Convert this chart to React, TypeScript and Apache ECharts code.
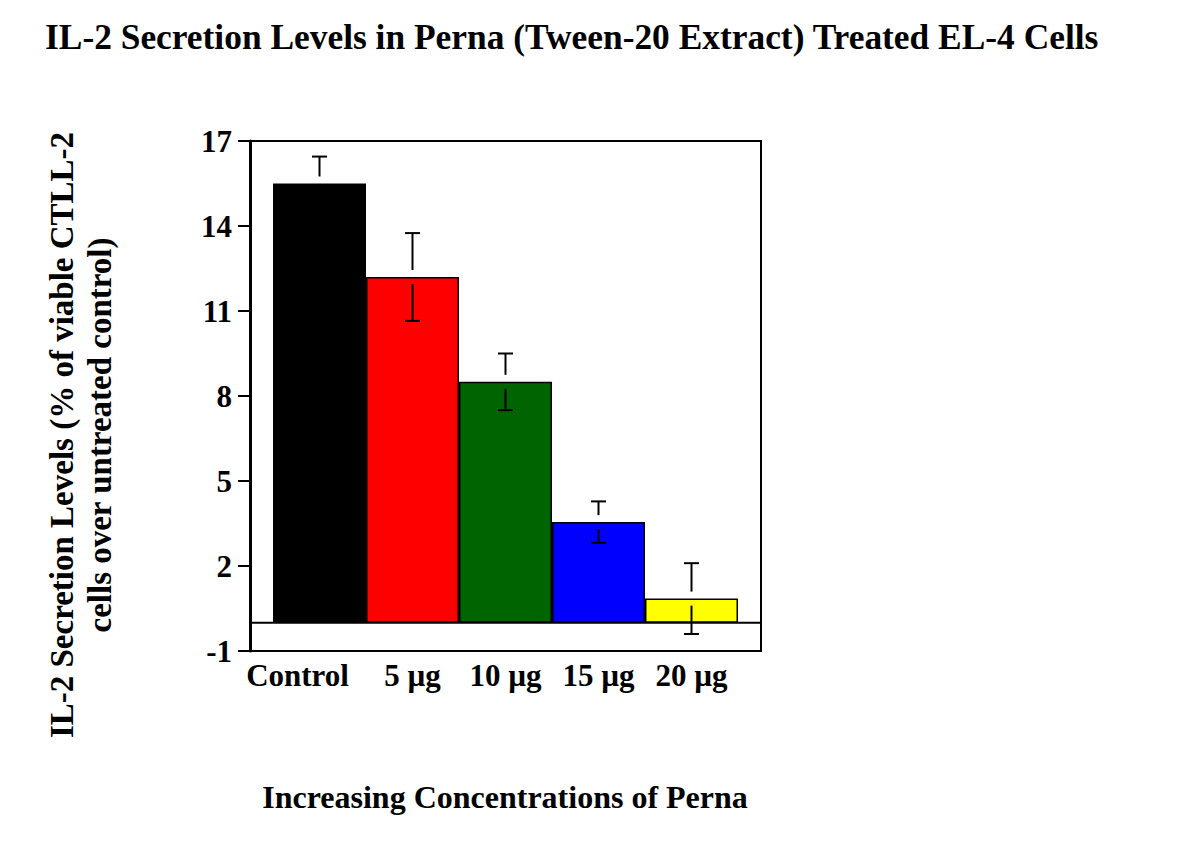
import React, { useEffect, useRef } from "react";
import * as echarts from "echarts";

const titleText = "IL-2 Secretion Levels in Perna (Tween-20 Extract) Treated EL-4 Cells";
const yAxisTitle = "IL-2 Secretion Levels (% of viable CTLL-2\ncells over untreated control)";
const xAxisTitle = "Increasing Concentrations of Perna";
const categories = ["Control", "5 µg", "10 µg", "15 µg", "20 µg"];
const means = [15.5, 12.2, 8.5, 3.55, 0.85];
const errors = [0.95, 1.55, 1.0, 0.73, 1.25];
const barColors = ["#000000", "#ff0000", "#006400", "#0000ff", "#ffff00"];
const yMin = -1;
const yMax = 17;
const yStep = 3;
const yTicks = [-1, 2, 5, 8, 11, 14, 17];
const zeroLine = [[0, 0], [1, 0]];

const FONT = "'Liberation Serif', 'Times New Roman', serif";

export default function App() {
  const ref = useRef<HTMLDivElement>(null);
  useEffect(() => {
    if (!ref.current) return;
    const chart = echarts.init(ref.current, null, { renderer: "svg" });
    const textBase = { fontFamily: FONT, fontWeight: "bold" as const, color: "#000" };
    const textGraphics = [
      {
        id: "yname",
        type: "text",
        x: 81,
        y: 435,
        rotation: Math.PI / 2,
        style: { text: yAxisTitle, font: `bold 33px ${FONT}`, fill: "#000", align: "center", verticalAlign: "middle", lineHeight: 38 },
      },
      {
        id: "xname",
        type: "text",
        x: 505,
        y: 797,
        style: { text: xAxisTitle, font: `bold 32px ${FONT}`, fill: "#000", align: "center", verticalAlign: "middle" },
      },
    ];
    chart.setOption({
      animation: false,
      backgroundColor: "#fff",
      title: {
        text: titleText,
        left: 45,
        top: 19,
        padding: 0,
        textStyle: { ...textBase, fontSize: 35.4 },
      },
      grid: [
        { left: 250, top: 141, width: 511, height: 510, show: true, borderColor: "#000", borderWidth: 2, backgroundColor: "transparent" },
        { left: 273, top: 141, width: 465, height: 510 },
      ],
      xAxis: [
        { type: "value", gridIndex: 0, min: 0, max: 1, show: false },
        {
          type: "category",
          gridIndex: 1,
          data: categories,
          axisLine: { show: false },
          axisTick: { show: false },
          axisLabel: {
            ...textBase,
            fontSize: 31,
            margin: 9,
            interval: 0,
            formatter: (v: string, i: number) => (i === 0 ? `{c|${v}}` : v),
            rich: { c: { ...textBase, fontSize: 31, padding: [0, 44, 0, 0] } },
          },
        },
      ],
      yAxis: [
        {
          type: "value",
          gridIndex: 0,
          min: yMin,
          max: yMax,
          interval: yStep,
          splitLine: { show: false },
          axisLine: { show: true, lineStyle: { color: "#000", width: 3 } },
          axisTick: { show: true, length: 12, lineStyle: { color: "#000", width: 2 } },
          axisLabel: { ...textBase, fontSize: 31, margin: 18 },
        },
        { type: "value", gridIndex: 1, min: yMin, max: yMax, show: false },
      ],
      graphic: textGraphics,
      series: [
        {
          type: "line",
          xAxisIndex: 0,
          yAxisIndex: 0,
          data: zeroLine,
          symbol: "none",
          silent: true,
          lineStyle: { color: "#000", width: 2 },
          z: 1,
        },
        {
          type: "bar",
          xAxisIndex: 1,
          yAxisIndex: 1,
          barWidth: "100%",
          data: means.map((v, i) => ({ value: v, itemStyle: { color: barColors[i] } })),
          itemStyle: { borderColor: "#000", borderWidth: 1.5 },
          z: 2,
        },
        {
          type: "custom",
          xAxisIndex: 1,
          yAxisIndex: 1,
          data: means.map((m, i) => [i, m, errors[i]]),
          encode: { x: 0, y: 1 },
          z: 10,
          renderItem: (params: any, api: any) => {
            const idx = api.value(0);
            const m = api.value(1);
            const e = api.value(2);
            const top = api.coord([idx, m + e]);
            const mid = api.coord([idx, m]);
            const bot = api.coord([idx, m - e]);
            const x = top[0];
            const gap = 7;
            const hw = 7.5;
            const st = { stroke: "#000", lineWidth: 2 };
            return {
              type: "group",
              children: [
                { type: "line", shape: { x1: x, y1: top[1], x2: x, y2: mid[1] - gap }, style: st },
                { type: "line", shape: { x1: x - hw, y1: top[1], x2: x + hw, y2: top[1] }, style: st },
                { type: "line", shape: { x1: x, y1: mid[1] + gap, x2: x, y2: bot[1] }, style: st },
                { type: "line", shape: { x1: x - hw, y1: bot[1], x2: x + hw, y2: bot[1] }, style: st },
              ],
            };
          },
        },
      ],
    });
    const tickGraphics = yTicks.map((v, i) => {
      const p = chart.convertToPixel({ gridIndex: 0 }, [0, v]) as number[];
      return {
        id: "ytick" + i,
        type: "line",
        z: 100,
        shape: { x1: p[0] - 12, y1: p[1], x2: p[0], y2: p[1] },
        style: { stroke: "#000", lineWidth: 2 },
      };
    });
    chart.setOption({ graphic: [...textGraphics, ...tickGraphics] });
    return () => chart.dispose();
  }, []);
  return <div ref={ref} style={{ position: "fixed", left: 0, top: 0, width: 1200, height: 867 }} />;
}
